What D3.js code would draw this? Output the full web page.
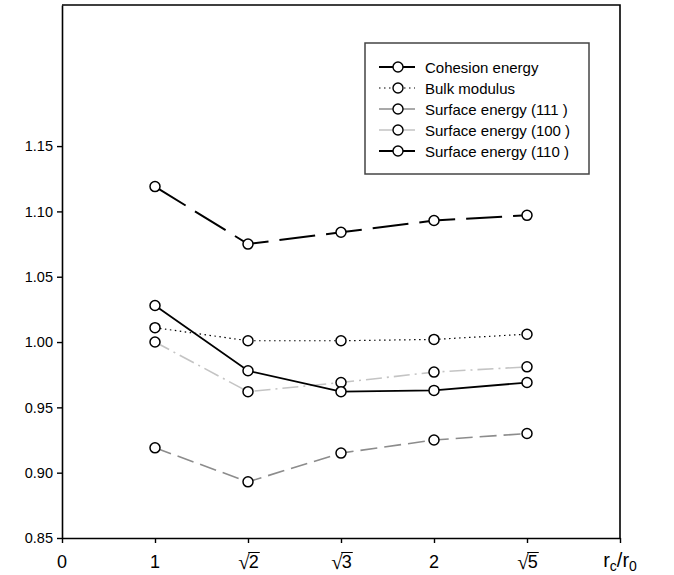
<!DOCTYPE html>
<html lang="en">
<head>
<meta charset="UTF-8">
<title>Normalized properties vs cutoff</title>
<script src="https://d3js.org/d3.v7.min.js"></script>
<style>
  body { margin: 0; background: #fff; }
  svg { display: block; font-family: "Liberation Sans", Arial, sans-serif; }
</style>
</head>
<body>
<svg width="674" height="575"></svg>
<script>
// x categories (last one is the axis title slot)
const categories = ["0", "1", "√2", "√3", "2", "√5", "rc/r0"];
const points = ["1", "√2", "√3", "2", "√5"];

// series values
const cohesion = [1.028, 0.978, 0.962, 0.963, 0.969];
const bulk     = [1.011, 1.001, 1.001, 1.002, 1.006];
const surf111  = [0.919, 0.893, 0.915, 0.925, 0.930];
const surf100  = [1.000, 0.962, 0.969, 0.977, 0.981];
const surf110  = [1.119, 1.075, 1.084, 1.093, 1.097];

const yTicks = [0.85, 0.90, 0.95, 1.00, 1.05, 1.10, 1.15];

const series = [
  { name: "Cohesion energy",       values: cohesion, color: "#000",    width: 1.8, dash: null,        legendDash: null },
  { name: "Bulk modulus",          values: bulk,     color: "#000",    width: 1.2, dash: "1.5,3.5",   legendDash: "1.5,3.5" },
  { name: "Surface energy (111 )", values: surf111,  color: "#8c8c8c", width: 1.6, dash: "17,7",      legendDash: null },
  { name: "Surface energy (100 )", values: surf100,  color: "#c4c4c4", width: 1.6, dash: "16,5,2,5",  legendDash: "14,4,2,4" },
  { name: "Surface energy (110 )", values: surf110,  color: "#000",    width: 2,   dash: "36,11",     legendDash: null }
];

const svg = d3.select("svg");
const mLeft = 62, mRight = 620, mTop = 5, mBottom = 538;

const x = d3.scalePoint().domain(categories).range([mLeft, mRight]);
const y = d3.scaleLinear().domain([0.85, 1.258]).range([mBottom, mTop]);

// frame (top and right)
svg.append("path")
  .attr("d", `M${mLeft},${mTop}H${mRight}V${mBottom}`)
  .attr("fill", "none").attr("stroke", "#000").attr("stroke-width", 1.6);

// y axis
const yAxis = svg.append("g")
  .attr("transform", `translate(${mLeft},0)`)
  .call(d3.axisLeft(y).tickValues(yTicks).tickFormat(d3.format(".2f")).tickSize(5).tickSizeOuter(0).tickPadding(4));
yAxis.selectAll("text").attr("font-size", 14.5).attr("fill", "#000").attr("font-family", "Liberation Sans, Arial, sans-serif");

// x axis
const xAxis = svg.append("g")
  .attr("transform", `translate(0,${mBottom})`)
  .call(d3.axisBottom(x).tickSize(5).tickSizeOuter(0));
xAxis.selectAll("text").remove();
svg.selectAll(".domain").attr("stroke-width", 1.6);
svg.selectAll(".tick line").attr("stroke-width", 1.4);

// x tick labels
const labelY = 568;
const xl = svg.append("g").attr("font-size", 18).attr("fill", "#000");
categories.forEach(c => {
  if (c.startsWith("√")) {
    // radical sign + digit with a bar over it
    const g = xl.append("g");
    const rad = g.append("text").attr("y", labelY + 1).attr("text-anchor", "end")
      .attr("font-family", "DejaVu Sans").attr("font-weight", 200).attr("font-size", 21).text("√");
    const dig = g.append("text").attr("y", labelY).attr("text-anchor", "start").text(c.slice(1));
    const w = dig.node().getComputedTextLength();
    const rw = rad.node().getComputedTextLength();
    const x0 = x(c) - (w - rw) / 2;
    rad.attr("x", x0 + 1);
    dig.attr("x", x0);
    g.append("line").attr("x1", x0 - 0.5).attr("x2", x0 + w + 1)
      .attr("y1", labelY - 15.5).attr("y2", labelY - 15.5)
      .attr("stroke", "#000").attr("stroke-width", 1);
  } else if (c === "rc/r0") {
    const t = xl.append("text").attr("x", x(c)).attr("y", labelY - 1).attr("text-anchor", "middle").attr("font-size", 20);
    t.append("tspan").text("r");
    t.append("tspan").attr("font-size", 14).attr("dy", 4).text("c");
    t.append("tspan").attr("dy", -4).text("/r");
    t.append("tspan").attr("font-size", 14).attr("dy", 4).text("0");
  } else {
    xl.append("text").attr("x", x(c)).attr("y", labelY).attr("text-anchor", "middle").text(c);
  }
});

// lines
const line = d3.line().x((d, i) => x(points[i])).y(d => y(d));
const drawOrder = [2, 3, 1, 0, 4];
drawOrder.forEach(k => {
  const s = series[k];
  svg.append("path")
    .datum(s.values)
    .attr("d", line)
    .attr("fill", "none")
    .attr("stroke", s.color)
    .attr("stroke-width", s.width)
    .attr("stroke-dasharray", s.dash);
});
drawOrder.forEach(k => {
  svg.append("g").selectAll("circle")
    .data(series[k].values)
    .join("circle")
    .attr("cx", (d, i) => x(points[i]))
    .attr("cy", d => y(d))
    .attr("r", 5)
    .attr("fill", "#fff")
    .attr("stroke", "#000")
    .attr("stroke-width", 1.5);
});

// legend
const lg = svg.append("g").attr("transform", "translate(365,43)");
lg.append("rect").attr("width", 224).attr("height", 131)
  .attr("fill", "#fff").attr("stroke", "#444").attr("stroke-width", 1.5);
series.forEach((s, i) => {
  const row = lg.append("g").attr("transform", `translate(0,${24 + i * 21})`);
  row.append("line").attr("x1", 14).attr("x2", 50)
    .attr("stroke", s.color).attr("stroke-width", Math.min(s.width, 1.8))
    .attr("stroke-dasharray", s.legendDash);
  row.append("circle").attr("cx", 33).attr("cy", 0).attr("r", 5)
    .attr("fill", "#fff").attr("stroke", "#000").attr("stroke-width", 1.4);
  row.append("text").attr("x", 60).attr("y", 5.5).attr("font-size", 15).attr("fill", "#000").text(s.name);
});
</script>
</body>
</html>
